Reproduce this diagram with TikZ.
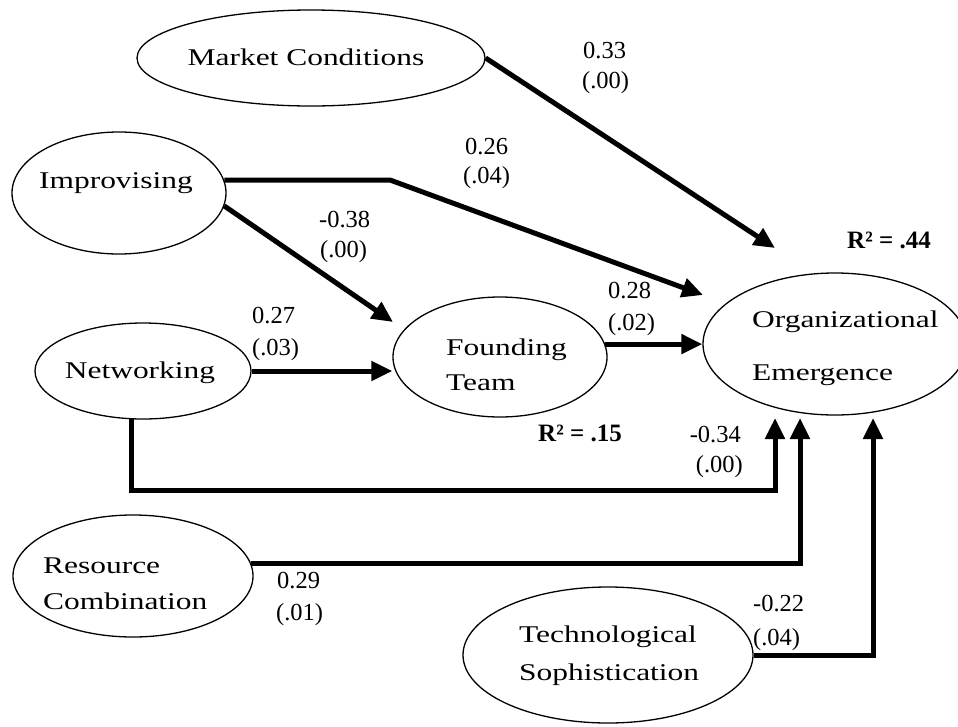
\documentclass[tikz,border=0pt]{standalone}
\usepackage{fontspec}
\setmainfont{Liberation Serif}
\newfontfamily\wideserif[FakeStretch=1.31]{Liberation Serif}
\usetikzlibrary{arrows.meta,shapes.geometric}

\tikzset{
  latent/.style={draw, ellipse, line width=1.3pt, inner sep=0pt},
  vname/.style={font=\wideserif\fontsize{24}{28}\selectfont, inner sep=0pt, anchor=base west},
  coef/.style={font=\fontsize{24.5}{28}\selectfont, inner sep=0pt, anchor=base west},
  coefr/.style={coef, anchor=base east},
  rsq/.style={font=\bfseries\fontsize{25}{28}\selectfont, inner sep=0pt, anchor=base west},
  effect/.style={line width=5pt, -{Triangle[length=21pt,width=19pt]}},
}

\begin{document}
\begin{tikzpicture}[x=1pt,y=-1pt]
\useasboundingbox (0,0) rectangle (958,726);

% latent variables
\node[latent, minimum width=348pt, minimum height=96pt]  (mc)  at (311,58)  {};
\node[latent, minimum width=214pt, minimum height=122pt] (imp) at (119,193) {};
\node[latent, minimum width=216pt, minimum height=96pt]  (net) at (143,371) {};
\node[latent, minimum width=214pt, minimum height=120pt] (ft)  at (500,357) {};
\node[latent, minimum width=264pt, minimum height=142pt] (oe)  at (835,344) {};
\node[latent, minimum width=240pt, minimum height=122pt] (rc)  at (133,576) {};
\node[latent, minimum width=290pt, minimum height=136pt] (ts)  at (608,655) {};

% variable names
\node[vname, anchor=base] (mcT)  at (306,65)  {Market Conditions};
\node[vname, anchor=base] (impT) at (116,188) {Improvising};
\node[vname, anchor=base] (netT) at (140,378) {Networking};
\node[vname] (ftT1) at (446,355) {Founding};
\node[vname] (ftT2) at (446,390) {Team};
\node[vname] (oeT1) at (752,327) {Organizational};
\node[vname] (oeT2) at (752,380) {Emergence};
\node[vname] (rcT1) at (43,573)  {Resource};
\node[vname] (rcT2) at (43,609)  {Combination};
\node[vname] (tsT1) at (519,642) {Technological};
\node[vname] (tsT2) at (519,680) {Sophistication};

% arrow targets around Organizational Emergence and Founding Team
\coordinate (oeMC)  at (775,248);
\coordinate (oeImp) at (703,295);
\coordinate (ftImp) at (393,322);
\coordinate (oeNet) at (775,418);
\coordinate (oeRC)  at (800,418);
\coordinate (oeTS)  at (873,418);

% structural paths
\draw[effect] (mc.east) -- (oeMC);
\draw[effect] (imp.7) -- ++(166,0) -- (oeImp);
\draw[effect] (imp.-7) -- (ftImp);
\draw[effect] (net.east) -- (net.east -| ft.west);
\draw[effect] (ft.7) -- (ft.7 -| oe.west);
\draw[effect] (net.-103) -- ++(0,71) -| (oeNet);
\draw[effect] (rc.6) -| (oeRC);
\draw[effect] (ts.east) -| (oeTS);

% path coefficients (p-values)
\node[coef] (c33a) at (583,58)  {0.33};
\node[coef] (c33b) at (582,88)  {(.00)};
\node[coef] (c26a) at (465,154) {0.26};
\node[coef] (c26b) at (463,183) {(.04)};
\node[coef] (c38a) at (319,227) {-0.38};
\node[coef] (c38b) at (320,257) {(.00)};
\node[coef] (c27a) at (252,323) {0.27};
\node[coef] (c27b) at (252,355) {(.03)};
\node[coef] (c28a) at (608,298) {0.28};
\node[coef] (c28b) at (608,330) {(.02)};
\node[coefr] (c34a) at (741,442) {-0.34};
\node[coefr] (c34b) at (743,472) {(.00)};
\node[coef] (c29a) at (277,588) {0.29};
\node[coef] (c29b) at (276,620) {(.01)};
\node[coef] (c22a) at (753,611) {-0.22};
\node[coef] (c22b) at (753,645) {(.04)};

% explained variance
\node[rsq] (r15) at (538,441) {R² = .15};
\node[rsq] (r44) at (847,248) {R² = .44};
\end{tikzpicture}
\end{document}
